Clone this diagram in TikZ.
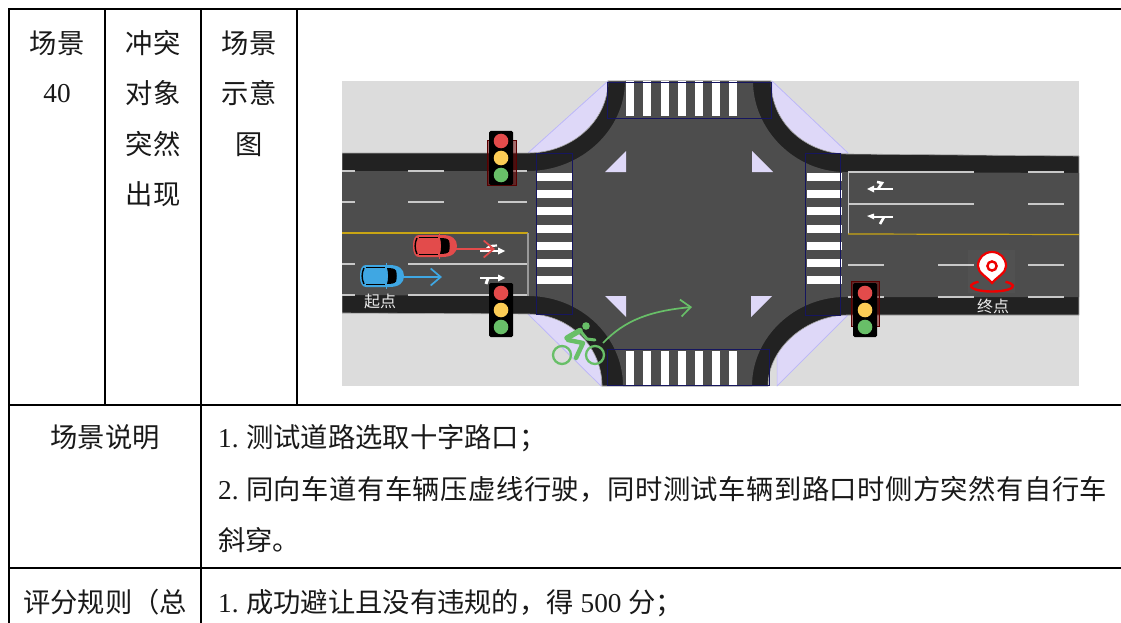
\documentclass[tikz,border=0pt]{standalone}
\usepackage{fontspec}
\setmainfont{Liberation Serif}
\newfontfamily\cjk{Noto Sans CJK SC}
\usetikzlibrary{arrows.meta}
\definecolor{bgc}{HTML}{DCDCDC}
\definecolor{roadc}{HTML}{4D4D4D}
\definecolor{edgec}{HTML}{222222}
\definecolor{lilac}{HTML}{DED8F8}
\definecolor{navyc}{HTML}{16165F}
\definecolor{yellowl}{HTML}{C9A514}
\definecolor{laneg}{HTML}{C8C8C8}
\definecolor{redc}{HTML}{E34B4B}
\definecolor{bluec}{HTML}{3FA7E3}
\definecolor{greenc}{HTML}{68BF68}
\definecolor{ambc}{HTML}{FCCC55}
\definecolor{pinred}{HTML}{EE0000}
\newcommand{\cn}[1]{{\cjk #1}}
\newcommand{\num}[1]{\makebox[28pt][l]{#1.}}
\tikzset{
  grid line/.style={draw=black,line width=2pt},
  celltext/.style={anchor=base,inner sep=0pt,text=black!90,font=\fontsize{27.3}{30}\selectfont},
  leftcell/.style={celltext,anchor=base west},
  lane/.style={draw=laneg,line width=1.3pt},
  zebra/.style={fill=white,draw=none},
  cwbox/.style={draw=navyc,line width=0.9pt},
  corner/.style={fill=lilac,draw=lilac!85!blue,line width=0.5pt},
  signbox/.style={fill=black,rounded corners=1.5pt},
  haze/.style={fill=red!45!black,fill opacity=.5,draw=red!35!black,line width=.8pt},
  road arrow/.style={draw=white,line width=2.6pt},
  route/.style={line width=1.7pt,-{Straight Barb[length=10pt,width=17pt,line width=1.7pt]}},
  map label/.style={text=white!92!black,inner sep=0pt,font=\fontsize{16}{18}\selectfont\cjk}
}
\newcommand{\signal}[2]{%
  \fill[signbox] (#1-12,#2) rectangle (#1+12,#2+54);
  \fill[redc] (#1,#2+10) circle (7.3);
  \fill[ambc] (#1,#2+27) circle (7.3);
  \fill[greenc] (#1,#2+44) circle (7.3);
}
\newcommand{\carshape}[3]{%
  \fill[#3] (#1-16,#2-11) -- (#1+7,#2-11) .. controls (#1+17,#2-11) and (#1+22,#2-7) .. (#1+22,#2)
     .. controls (#1+22,#2+7) and (#1+17,#2+11) .. (#1+7,#2+11) -- (#1-16,#2+11)
     .. controls (#1-20,#2+11) and (#1-22,#2+7) .. (#1-22,#2) .. controls (#1-22,#2-7) and (#1-20,#2-11) .. cycle;
  \fill[black] (#1+5,#2-8) .. controls (#1+9,#2-8) and (#1+13,#2-7.5) .. (#1+14,#2-5.5) .. controls (#1+15,#2-2) and (#1+15,#2+2) .. (#1+14,#2+5.5) .. controls (#1+13,#2+7.5) and (#1+9,#2+8) .. (#1+5,#2+8) .. controls (#1+6.5,#2+3) and (#1+6.5,#2-3) .. cycle;
  \draw[black,line width=1pt] (#1-16,#2-8.5) -- (#1+3,#2-8.5) (#1-16,#2+8.5) -- (#1+3,#2+8.5);
  \draw[black,line width=1.4pt] (#1-18,#2-8) .. controls (#1-20.5,#2-3) and (#1-20.5,#2+3) .. (#1-18,#2+8);
  \draw[#3,line width=1pt] (#1+4,#2-13) -- (#1+4,#2+13);
}
\begin{document}
\begin{tikzpicture}[x=1pt,y=-1pt]
\useasboundingbox (0,0) rectangle (1121,623);
\fill[white] (0,0) rectangle (1121,623);
% ---------- scene
\begin{scope}
\clip (342,81) rectangle (1079,386);
\fill[bgc] (342,81) rectangle (1079,386);
\fill[corner] (528,153) -- (608,81) -- (608,153) -- cycle;
\fill[corner] (772,81) -- (848,153) -- (772,153) -- cycle;
\fill[corner] (528,314) -- (601,386) -- (601,314) -- cycle;
\fill[corner] (848,315) -- (777,386) -- (777,315) -- cycle;
\draw[corner,fill=none] (528,153) -- (608,81) (772,81) -- (848,153) (528,314) -- (601,386) (848,315) -- (777,386);
\path[fill=edgec,draw=black!35,line width=.6pt]
  (342,153) -- (528,153) .. controls (572,153) and (608,121) .. (608,81)
  -- (771,81) .. controls (771,125) and (808,154) .. (848,154) -- (1079,156)
  -- (1079,315) -- (848,315) .. controls (808,315) and (768,347) .. (768,386)
  -- (602,386) .. controls (602,347) and (570,314) .. (528,314) -- (342,313) -- cycle;
\fill[roadc]
  (342,171) -- (528,171) .. controls (581,171) and (625,130) .. (625,81)
  -- (753,81) .. controls (753,130) and (795,172) .. (845,172) -- (1079,173)
  -- (1079,297) -- (845,297) .. controls (795,297) and (752,337) .. (752,386)
  -- (623,386) .. controls (623,337) and (581,296) .. (528,296) -- (342,295) -- cycle;
% lane lines, left
\foreach \y in {171,202}{\draw[lane] (342,\y) -- (355,\y) (408,\y) -- (444,\y);}
\draw[lane] (513,171) -- (527,171);
\draw[lane] (498,202) -- (527,202);
\foreach \y in {264,295}{\draw[lane] (342,\y) -- (355,\y) (408,\y) -- (528,\y);}
\draw[draw=yellowl,line width=1.2pt] (342,233) -- (528,233);
\draw[lane,draw=black!40!white] (528,233) -- (528,296);
% lane lines, right
\foreach \y in {172,204}{\draw[lane] (848,\y) -- (974,\y) (1028,\y) -- (1064,\y);}
\foreach \y in {265,297}{\draw[lane] (848,\y) -- (884,\y) (938,\y) -- (974,\y) (1028,\y) -- (1064,\y);}
\draw[lane] (848.5,172) -- (848.5,234);
\draw[draw=yellowl,line width=1.2pt] (848,234) -- (1079,234.5);
% crosswalks
\foreach \y in {177,194,211,229,246,263,280}{
  \fill[zebra] (537,\y-3.6) rectangle (572,\y+3.6);
  \fill[zebra] (807,\y-3.6) rectangle (842,\y+3.6);
}
\foreach \x in {626,643,661,678,695,712,729}{
  \fill[zebra] (\x,81) rectangle (\x+7.5,116);
  \fill[zebra] (\x,351) rectangle (\x+7.5,386);
}
\draw[cwbox] (536,153) rectangle (572,314);
\draw[cwbox] (805,153) rectangle (840,315);
\draw[cwbox] (607,82) rectangle (771,118);
\draw[cwbox] (607,385) rectangle (769,349);
% lilac island triangles
\fill[lilac] (626,151) -- (626,172) -- (605,172) -- cycle;
\fill[lilac] (605,296) -- (626,296) -- (626,317) -- cycle;
\fill[lilac] (752,151) -- (752,172) -- (773,172) -- cycle;
\fill[lilac] (751,296) -- (772,296) -- (751,317) -- cycle;
% road arrows
\draw[road arrow] (480,251) -- (500,251);
\fill[white] (498,247.5) -- (505,251) -- (498,254.5) -- cycle;
\draw[road arrow,line width=2.2pt] (484,251) -- (490,246) -- (497,245.5);
\draw[road arrow] (480,278) -- (500,278);
\fill[white] (498,274.5) -- (505,278) -- (498,281.5) -- cycle;
\draw[road arrow,line width=3pt] (488,278) -- (486,284);
\draw[road arrow] (872,189) -- (893,189);
\fill[white] (874,185.5) -- (867,189) -- (874,192.5) -- cycle;
\draw[road arrow] (878,189) -- (882,183) -- (877,182);
\draw[road arrow] (872,217) -- (893,217);
\fill[white] (874,213.5) -- (867,216) -- (874,219.5) -- cycle;
\draw[road arrow] (884,217) -- (880,224);
% cars and routes
\carshape{435}{246}{redc}
\coordinate (redfront) at (456,249);
\coordinate (redtip) at (495,249);
\draw[route,draw=redc] (redfront) -- (redtip);
\carshape{382}{276}{bluec}
\coordinate (bluefront) at (403,277);
\coordinate (bluetip) at (442,277);
\draw[route,draw=bluec] (bluefront) -- (bluetip);
% bicycle
\draw[greenc,line width=2.3pt] (562,355) circle (9) (595,355) circle (9);
\fill[greenc] (586,326) circle (3.8);
\draw[greenc,line width=5.5pt,line cap=round,line join=round] (567,338) -- (580,330.5);
\draw[greenc,line width=3pt,line cap=round,line join=round] (580,330.5) -- (587,339) -- (595,340);
\draw[greenc,line width=4.5pt,line cap=round,line join=round] (568,340) -- (583,343) -- (576,358);
\coordinate (bikefront) at (603,343);
\coordinate (biketip) at (692,307);
\draw[route,draw=greenc] (bikefront) .. controls (625,320) and (650,311) .. (biketip);
% signals
\fill[haze] (487,140) rectangle (516,185);
\signal{501}{131}
\signal{501}{283}
\fill[haze] (851,281) rectangle (879,326);
\signal{865}{283}
% destination pin
\fill[white,fill opacity=.025] (968,250) rectangle (1015,293);
\draw[pinred,line width=2.4pt] (1005.5,281.8) arc[start angle=-50,end angle=230,x radius=21,y radius=5.5];
\path[fill=white,draw=pinred,line width=2.2pt] (992,283) .. controls (986,276) and (978,273) .. (978,266)
  .. controls (978,258) and (984,252) .. (992,252) .. controls (1000,252) and (1006,258) .. (1006,266)
  .. controls (1006,273) and (998,276) .. (992,283) -- cycle;
\draw[pinred,line width=2.4pt,fill=white] (992,266) circle (4.6);
\node[map label] (startlabel) at (380,301) {起点};
\node[map label] (endlabel) at (993,306) {终点};
\end{scope}
% ---------- table rules
\draw[grid line] (8,9) -- (1121,9);
\draw[grid line] (9,405) -- (1121,405);
\draw[grid line] (9,568) -- (1121,568);
\draw[grid line] (9,9) -- (9,623);
\draw[grid line] (105,9) -- (105,405);
\draw[grid line] (201,9) -- (201,623);
\draw[grid line] (297,9) -- (297,405);
% ---------- table text
\node[celltext] (a1) at (57,53.5) {\cn{场景}};
\node[celltext] (a2) at (57,103) {40};
\node[celltext] (b1) at (153,53.5) {\cn{冲突}};
\node[celltext] (b2) at (153,103.5) {\cn{对象}};
\node[celltext] (b3) at (153,154) {\cn{突然}};
\node[celltext] (b4) at (153,204.5) {\cn{出现}};
\node[celltext] (c1) at (249,53.5) {\cn{场景}};
\node[celltext] (c2) at (249,103.5) {\cn{示意}};
\node[celltext] (c3) at (249,154) {\cn{图}};
\node[celltext] (d1) at (105,447.5) {\cn{场景说明}};
\node[leftcell] (e1) at (218,447.5) {\num{1}\cn{测试道路选取十字路口；}};
\node[leftcell] (e2) at (218,499.5) {\num{2}{\cjk\addfontfeature{LetterSpace=1.8}同向车道有车辆压虚线行驶，同时测试车辆到路口时侧方突然有自行车}};
\node[leftcell] (e3) at (218,550.5) {\cn{斜穿。}};
\node[celltext] (f1) at (105,612.5) {\cn{评分规则（总}};
\node[leftcell] (g1) at (218,612.5) {\num{1}\cn{成功避让且没有违规的，得} 500 \cn{分；}};
\end{tikzpicture}
\end{document}
